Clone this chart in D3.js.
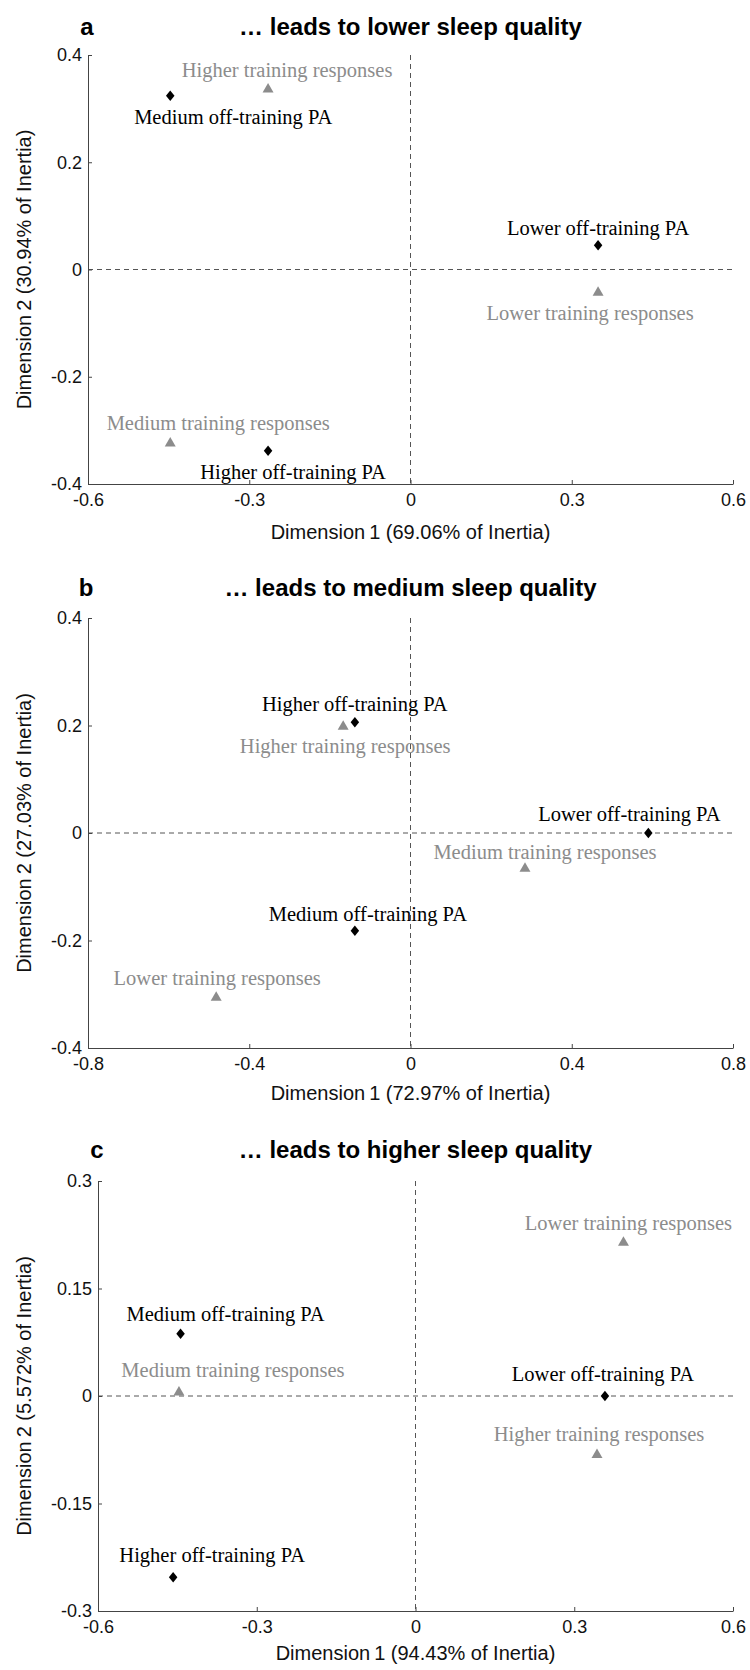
<!DOCTYPE html>
<html>
<head>
<meta charset="utf-8">
<script src="https://d3js.org/d3.v7.min.js"></script>
<style>
  body { margin: 0; background: #fff; }
  svg text { font-family: "Liberation Sans", Arial, sans-serif; }
  .lbl { font-family: "Liberation Serif", "Times New Roman", serif !important; font-size: 20.5px; }
</style>
</head>
<body>
<div id="chart"></div>
<script>
// categories
const paNames = ["Lower off-training PA", "Medium off-training PA", "Higher off-training PA"];
const trNames = ["Lower training responses", "Medium training responses", "Higher training responses"];

// panel a: ... leads to lower sleep quality
const aPaX = [0.349, -0.447, -0.265];
const aPaY = [0.045, 0.324, -0.338];
const aTrX = [0.349, -0.447, -0.265];
const aTrY = [-0.043, -0.324, 0.336];
const aXTicks = [-0.6, -0.3, 0, 0.3, 0.6];
const aYTicks = [-0.4, -0.2, 0, 0.2, 0.4];

// panel b: ... leads to medium sleep quality
const bPaX = [0.590, -0.138, -0.138];
const bPaY = [0.0, -0.182, 0.206];
const bTrX = [-0.482, 0.284, -0.167];
const bTrY = [-0.306, -0.066, 0.198];
const bXTicks = [-0.8, -0.4, 0, 0.4, 0.8];
const bYTicks = [-0.4, -0.2, 0, 0.2, 0.4];

// panel c: ... leads to higher sleep quality
const cPaX = [0.358, -0.444, -0.458];
const cPaY = [0.0, 0.087, -0.253];
const cTrX = [0.393, -0.447, 0.343];
const cTrY = [0.214, 0.005, -0.082];
const cXTicks = [-0.6, -0.3, 0, 0.3, 0.6];
const cYTicks = [-0.3, -0.15, 0, 0.15, 0.3];

const W = 750, H = 1670;
const grey = "#8c8c8c";

const svg = d3.select("#chart").append("svg")
  .attr("width", W)
  .attr("height", H);

// label nudges in pixels (layout only)
const panels = [
  { letter: "a", title: "\u2026 leads to lower sleep quality",
    xTitle: "Dimension\u20091 (69.06% of Inertia)", yTitle: "Dimension\u20092 (30.94% of Inertia)",
    paX: aPaX, paY: aPaY, trX: aTrX, trY: aTrY, xTicks: aXTicks, yTicks: aYTicks,
    left: 88, right: 733, top: 55, bottom: 484, titleY: 27, letterX: 87, xTitleY: 532,
    paNudge: [[0, -17], [63, 22], [25, 22]], trNudge: [[-8, 21], [48, -19], [19, -18]] },
  { letter: "b", title: "\u2026 leads to medium sleep quality",
    xTitle: "Dimension\u20091 (72.97% of Inertia)", yTitle: "Dimension\u20092 (27.03% of Inertia)",
    paX: bPaX, paY: bPaY, trX: bTrX, trY: bTrY, xTicks: bXTicks, yTicks: bYTicks,
    left: 88, right: 733, top: 618, bottom: 1048, titleY: 588, letterX: 86, xTitleY: 1093,
    paNudge: [[-19, -18], [13, -16], [0, -17]], trNudge: [[1, -19], [20, -16], [2, 20]] },
  { letter: "c", title: "\u2026 leads to higher sleep quality",
    xTitle: "Dimension\u20091 (94.43% of Inertia)", yTitle: "Dimension\u20092 (5.572% of Inertia)",
    paX: cPaX, paY: cPaY, trX: cTrX, trY: cTrY, xTicks: cXTicks, yTicks: cYTicks,
    left: 98, right: 733, top: 1181, bottom: 1611, titleY: 1150, letterX: 97, xTitleY: 1653,
    paNudge: [[-2, -21], [45, -19], [39, -21]], trNudge: [[5, -19], [54, -22], [2, -20]] }
];

panels.forEach(p => {
  const g = svg.append("g");

  const x = d3.scaleLinear()
    .domain([p.xTicks[0], p.xTicks[p.xTicks.length - 1]])
    .range([p.left, p.right]);
  const y = d3.scaleLinear()
    .domain([p.yTicks[0], p.yTicks[p.yTicks.length - 1]])
    .range([p.bottom, p.top]);

  // dashed zero lines
  g.append("line")
    .attr("x1", x(0)).attr("x2", x(0))
    .attr("y1", p.top).attr("y2", p.bottom)
    .attr("stroke", "#555").attr("stroke-dasharray", "5,4");
  g.append("line")
    .attr("x1", p.left).attr("x2", p.right)
    .attr("y1", y(0)).attr("y2", y(0))
    .attr("stroke", "#555").attr("stroke-dasharray", "5,4");

  // axes
  const fmt = d => String(d);
  const xAxis = g.append("g")
    .attr("transform", `translate(0,${p.bottom})`)
    .call(d3.axisBottom(x).tickValues(p.xTicks).tickFormat(fmt)
      .tickSizeInner(-4).tickSizeOuter(0).tickPadding(9));
  const yAxis = g.append("g")
    .attr("transform", `translate(${p.left},0)`)
    .call(d3.axisLeft(y).tickValues(p.yTicks).tickFormat(fmt)
      .tickSizeInner(-4).tickSizeOuter(0).tickPadding(6));
  [xAxis, yAxis].forEach(a => {
    a.select(".domain").attr("stroke", "#444");
    a.selectAll(".tick line").attr("stroke", "#444");
    a.selectAll("text")
      .style("font-family", "'Liberation Sans', Arial, sans-serif")
      .style("font-size", "18px")
      .attr("fill", "#111");
  });

  // titles
  g.append("text")
    .attr("x", (p.left + p.right) / 2)
    .attr("y", p.titleY)
    .attr("dy", "0.35em")
    .attr("text-anchor", "middle")
    .style("font-size", "24px")
    .style("font-weight", "bold")
    .text(p.title);
  g.append("text")
    .attr("x", p.letterX)
    .attr("y", p.titleY)
    .attr("dy", "0.35em")
    .attr("text-anchor", "middle")
    .style("font-size", "24px")
    .style("font-weight", "bold")
    .text(p.letter);

  g.append("text")
    .attr("x", (p.left + p.right) / 2)
    .attr("y", p.xTitleY)
    .attr("dy", "0.35em")
    .attr("text-anchor", "middle")
    .style("font-size", "20px")
    .attr("fill", "#111")
    .text(p.xTitle);
  g.append("text")
    .attr("transform", `translate(24,${(p.top + p.bottom) / 2}) rotate(-90)`)
    .attr("dy", "0.35em")
    .attr("text-anchor", "middle")
    .style("font-size", "20px")
    .attr("fill", "#111")
    .text(p.yTitle);

  // training responses (grey triangles)
  const tri = d3.symbol(d3.symbolTriangle, 52);
  trNames.forEach((name, i) => {
    g.append("path")
      .attr("d", tri())
      .attr("transform", `translate(${x(p.trX[i])},${y(p.trY[i])})`)
      .attr("fill", grey);
    g.append("text")
      .attr("class", "lbl")
      .attr("x", x(p.trX[i]) + p.trNudge[i][0])
      .attr("y", y(p.trY[i]) + p.trNudge[i][1])
      .attr("dy", "0.3em")
      .attr("text-anchor", "middle")
      .attr("fill", grey)
      .text(name);
  });

  // off-training PA (black diamonds)
  const dia = d3.symbol(d3.symbolSquare, 50);
  paNames.forEach((name, i) => {
    g.append("path")
      .attr("d", dia())
      .attr("transform", `translate(${x(p.paX[i])},${y(p.paY[i])}) scale(0.85,1.05) rotate(45)`)
      .attr("fill", "#000");
    g.append("text")
      .attr("class", "lbl")
      .attr("x", x(p.paX[i]) + p.paNudge[i][0])
      .attr("y", y(p.paY[i]) + p.paNudge[i][1])
      .attr("dy", "0.3em")
      .attr("text-anchor", "middle")
      .attr("fill", "#000")
      .text(name);
  });
});
</script>
</body>
</html>
